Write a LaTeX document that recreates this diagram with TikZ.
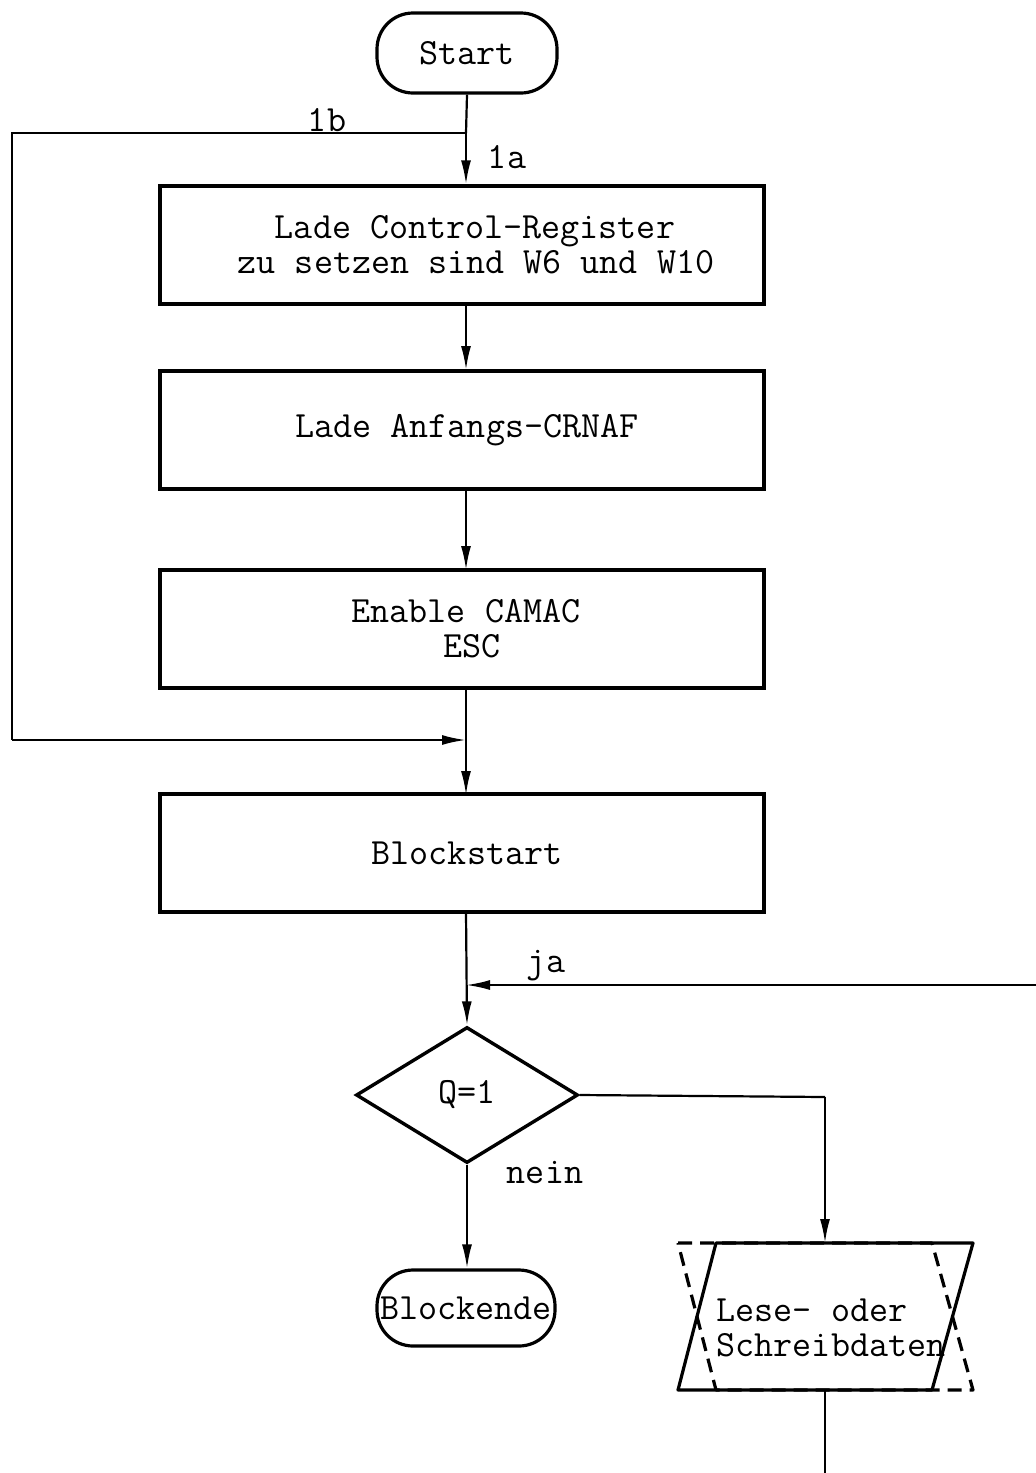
\documentclass[tikz,border=0pt]{standalone}
\usepackage{fontspec}
\usetikzlibrary{shapes.geometric,arrows.meta}
\newcommand\tx{\fontsize{37}{35}\selectfont\ttfamily}
\begin{document}
\begin{tikzpicture}[x=1pt,y=-1pt,
  proc/.style={draw, line width=3.4pt, minimum width=604pt, minimum height=118pt, inner sep=0pt, align=center, font=\tx},
  term/.style={draw, line width=3.2pt, rounded corners=36pt, inner sep=0pt, font=\tx},
  dec/.style={draw, diamond, line width=3.4pt, minimum width=222pt, minimum height=136pt, inner sep=0pt, font=\tx},
  conn/.style={line width=2.2pt},
  arr/.style={conn, -{Latex[length=24pt,width=10pt]}},
  lbl/.style={font=\tx, inner sep=0pt},
  iobox/.style={line width=3.2pt, line join=round}
]
\useasboundingbox (0,0) rectangle (1036,1473);
% nodes
\node[term, minimum width=180pt, minimum height=80pt] (start) at (467,53) {Start};
\node[proc] (b1) at (462,245) {\hspace*{26pt}Lade Control-Register\\\hspace*{28pt}zu setzen sind W6 und W10};
\node[proc] (b2) at (462,430) {\hspace*{10pt}Lade Anfangs-CRNAF};
\node[proc] (b3) at (462,629) {\hspace*{8pt}Enable CAMAC\\\hspace*{20pt}ESC};
\node[proc] (b4) at (462,853) {\hspace*{10pt}Blockstart};
\node[dec] (q) at (467,1095) {Q=1};
\node[term, minimum width=178pt, minimum height=76pt] (end) at (466,1308) {Blockende};
% I/O parallelogram
\coordinate (pTL) at (716,1243);
\coordinate (pTR) at (973,1243);
\coordinate (pBR) at (932,1390);
\coordinate (pBL) at (678,1390);
\coordinate (dTL) at (678,1243);
\coordinate (dTR) at (932,1243);
\coordinate (dBR) at (973,1390);
\coordinate (dBL) at (716,1390);
\draw[iobox, dash pattern=on 14pt off 8pt] (dTL) -- (dTR) -- (dBR) -- (dBL) -- cycle;
\draw[iobox] (pTL) -- (pTR) -- (pBR) -- (pBL) -- cycle;
\node[lbl, align=left] (io) at (831,1328) {Lese- oder\\Schreibdaten};
\coordinate (ioTop) at (825,1243);
\coordinate (ioBot) at (825,1390);
\coordinate (ioOut) at (825,1473);
% helper coordinates
\coordinate (j1) at (466,133);
\coordinate (l1) at (12,133);
\coordinate (l2) at (12,740);
\coordinate (j2) at (466,740);
\coordinate (jaStart) at (1036,985);
\coordinate (jaEnd) at (466,985);
\coordinate (qr) at (825,1097);
% connectors
\draw[conn] (start.south) -- (j1);
\draw[arr] (j1) -- (j1 |- b1.north);
\draw[conn] (j1) -- (l1) -- (l2);
\draw[arr] (l2) -- (j2);
\draw[arr] (466,304) -- (466,370);
\draw[arr] (466,490) -- (466,570);
\draw[arr] (466,688) -- (466,795);
\draw[arr] (466,912) -- (q.north);
\draw[arr] (jaStart) -- (jaEnd);
\draw[arr] (q.south) -- (q.south |- end.north);
\draw[conn] (q.east) -- (qr);
\draw[arr] (qr) -- (ioTop);
\draw[conn] (ioBot) -- (ioOut);
% labels
\node[lbl] (l1b) at (327,120) {1b};
\node[lbl] (l1a) at (507,157) {1a};
\node[lbl] (lja) at (546,966) {ja};
\node[lbl] (lnein) at (545,1172) {nein};
\end{tikzpicture}
\end{document}
